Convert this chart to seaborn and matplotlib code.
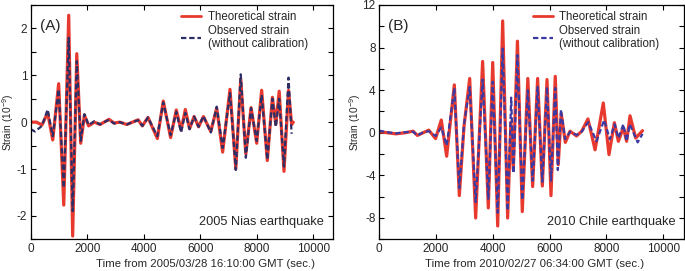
import matplotlib
matplotlib.use("Agg")
import matplotlib.pyplot as plt
import seaborn as sns
import pandas as pd
from matplotlib.ticker import MultipleLocator
from matplotlib.lines import Line2D

# ---------------- data ----------------
# Panel A: 2005 Nias earthquake
tA_theo = [0, 200, 400, 600, 780, 990, 1170, 1345, 1485, 1630, 1770, 1900, 2050, 2250,
           2450, 2600, 2770, 2950, 3150, 3400, 3600, 3800, 3950, 4150, 4480, 4690, 4950,
           5150, 5320, 5470, 5620, 5780, 5940, 6110, 6370, 6580, 6790, 7050, 7255, 7430,
           7610, 7795, 7995, 8170, 8370, 8550, 8670, 8790, 8960, 9120, 9230, 9290]
vA_theo = [0.0, 0.0, -0.06, 0.2, -0.38, 0.82, -1.77, 2.28, -2.43, 1.46, -0.45, 0.15, -0.08, 0.0,
           -0.05, 0.0, 0.06, -0.02, 0.0, -0.05, 0.0, 0.05, -0.08, 0.1, -0.35, 0.45, -0.33,
           0.26, -0.17, 0.27, -0.14, 0.12, -0.1, 0.12, -0.2, 0.3, -0.64, 0.70, -1.0, 0.92,
           -0.68, 0.31, -0.45, 0.68, -0.82, 0.53, -0.05, 0.66, -1.05, 0.68, -0.05, 0.0]
tA_obs = [0, 150, 400, 600, 780, 990, 1170, 1345, 1485, 1630, 1770, 1900, 2050, 2250,
          2450, 2600, 2770, 2950, 3150, 3400, 3600, 3800, 3950, 4150, 4480, 4690, 4950,
          5150, 5320, 5470, 5620, 5780, 5940, 6110, 6370, 6580, 6790, 7050, 7255, 7430,
          7610, 7795, 7995, 8170, 8370, 8550, 8670, 8790, 8960, 9120, 9230]
vA_obs = [-0.15, -0.2, -0.08, 0.27, -0.3, 0.7, -1.4, 1.8, -1.9, 1.3, -0.4, 0.17, -0.06, 0.02,
          -0.05, 0.0, 0.05, -0.03, 0.0, -0.05, 0.0, 0.04, -0.08, 0.1, -0.3, 0.42, -0.28,
          0.22, -0.22, 0.2, -0.15, 0.12, -0.1, 0.13, -0.22, 0.33, -0.55, 0.62, -1.02, 1.02,
          -0.76, 0.3, -0.4, 0.58, -0.8, 0.5, -0.1, 0.5, -0.95, 0.95, -0.25]

# Panel B: 2010 Chile earthquake
tB_theo = [0, 300, 600, 900, 1200, 1350, 1550, 1750, 1990, 2190, 2380, 2650, 2825, 2990,
           3190, 3400, 3645, 3845, 4000, 4175, 4350, 4525, 4640, 4725, 4870, 5040, 5235,
           5405, 5580, 5745, 5910, 6050, 6200, 6305, 6410, 6555, 6720, 6950, 7130, 7350,
           7600, 7890, 8090, 8280, 8420, 8595, 8710, 8830, 9030, 9270]
vB_theo = [0.1, 0.0, -0.1, 0.0, 0.15, -0.25, 0.0, 0.25, -0.55, 1.2, -2.2, 4.5, -5.9, 0.6,
           5.1, -8.0, 6.7, -7.05, 6.6, -8.75, 10.5, -8.0, 1.0, -3.5, 8.6, -7.4, 5.1,
           -5.05, 5.1, -5.0, 5.0, -5.9, 5.3, -3.0, 1.8, -0.9, 0.15, -0.3, 0.15, 1.3,
           -1.6, 2.8, -2.05, 0.95, -0.8, 0.5, -0.8, 1.6, -0.5, 0.2]
tB_obs = [0, 300, 600, 900, 1200, 1350, 1550, 1750, 1990, 2190, 2380, 2650, 2825, 2990,
          3190, 3400, 3645, 3845, 4000, 4175, 4350, 4525, 4650, 4730, 4870, 5040, 5235,
          5405, 5580, 5745, 5910, 6050, 6200, 6290, 6400, 6545, 6720, 6950, 7130, 7360,
          7650, 7920, 8120, 8290, 8420, 8595, 8710, 8820, 9100, 9270]
vB_obs = [0.2, 0.05, -0.05, 0.05, 0.1, -0.25, 0.05, 0.15, -0.3, 0.5, -1.2, 4.2, -5.2, 0.8,
          4.3, -6.5, 5.0, -6.2, 4.8, -7.5, 7.9, -7.3, 3.3, -3.8, 7.3, -6.3, 4.0,
          -4.5, 4.3, -4.6, 4.3, -4.5, 4.2, -3.5, 2.2, -0.6, 0.1, -0.2, 0.1, 1.0,
          -0.8, 1.2, -0.6, 0.8, -0.5, 0.8, -0.8, 0.8, -0.9, -0.1]

label_theo = "Theoretical strain"
label_obs = "Observed strain\n(without calibration)"

# ---------------- style ----------------
sns.set_style("ticks", {"xtick.direction": "in", "ytick.direction": "in"})
plt.rcParams["font.family"] = ["Liberation Sans", "DejaVu Sans"]
plt.rcParams["mathtext.fontset"] = "custom"
plt.rcParams["mathtext.rm"] = "Liberation Sans"
plt.rcParams["mathtext.it"] = "Liberation Sans"
plt.rcParams["axes.unicode_minus"] = False

RED = "#e8392f"
BLUE_A = "#2c2e68"
BLUE_B = "#3b39a2"

fig = plt.figure(figsize=(6.85, 2.71), dpi=100)
axA = fig.add_axes([0.0448, 0.117, 0.4418, 0.8646])
axB = fig.add_axes([0.5533, 0.117, 0.4457, 0.8646])

panels = [
    (axA, tA_theo, vA_theo, tA_obs, vA_obs, BLUE_A, (-2.5, 2.5), 1.0, 0.5, 10705,
     "(A)", "2005 Nias earthquake", "Time from 2005/03/28 16:10:00 GMT (sec.)",
     0.576, 0.497, -0.049),
    (axB, tB_theo, vB_theo, tB_obs, vB_obs, BLUE_B, (-10, 12), 4.0, 2.0, 10740,
     "(B)", "2010 Chile earthquake", "Time from 2010/02/27 06:34:00 GMT (sec.)",
     0.51, 0.504, -0.052),
]

for (ax, tt, vt, to, vo, blue, ylim, ymaj, ymin, xmax, tag, quake, xlabel,
     xlx, legx, ylx) in panels:
    dft = pd.DataFrame({"t": tt, "v": vt})
    dfo = pd.DataFrame({"t": to, "v": vo})
    sns.lineplot(data=dft, x="t", y="v", ax=ax, color=RED, lw=2.3, sort=False,
                 solid_joinstyle="round", solid_capstyle="round")
    sns.lineplot(data=dfo, x="t", y="v", ax=ax, color=blue, lw=1.6, sort=False,
                 dashes=False)
    ax.lines[-1].set_linestyle((0, (2.4, 1.3)))
    ax.set_xlim(0, xmax)
    ax.set_ylim(*ylim)
    ax.xaxis.set_major_locator(MultipleLocator(2000))
    ax.yaxis.set_major_locator(MultipleLocator(ymaj))
    ax.yaxis.set_minor_locator(MultipleLocator(ymin))
    ax.tick_params(which="both", direction="in", top=True, right=True,
                   labelsize=8.5, color="black", width=0.8, pad=3)
    ax.tick_params(axis="y", which="both", pad=2.5)
    ax.tick_params(which="major", length=3.8)
    ax.tick_params(which="minor", length=3.8)
    ax.set_xlabel(xlabel, fontsize=8.2)
    ax.xaxis.set_label_coords(xlx, -0.085)
    ax.set_ylabel(r"Strain (10$^{-9}$)", fontsize=7.3)
    ax.yaxis.set_label_coords(ylx, 0.5)
    for s in ax.spines.values():
        s.set_linewidth(0.9)
        s.set_color("black")
    ax.text(0.03, 0.94, tag, transform=ax.transAxes, fontsize=11, va="top", ha="left")
    ax.text(0.97, 0.05, quake, transform=ax.transAxes, fontsize=9.2, va="bottom", ha="right")
    handles = [Line2D([], [], color=RED, lw=2.0),
               Line2D([], [], color=blue, lw=1.6, linestyle=(0, (2.4, 1.3)))]
    ax.legend(handles, [label_theo, label_obs], loc="upper left",
              bbox_to_anchor=(legx, 0.975), frameon=False, fontsize=8.3,
              handlelength=1.75, handletextpad=0.55, borderpad=0, labelspacing=0.15,
              borderaxespad=0)

fig.savefig("out.png", dpi=100)
